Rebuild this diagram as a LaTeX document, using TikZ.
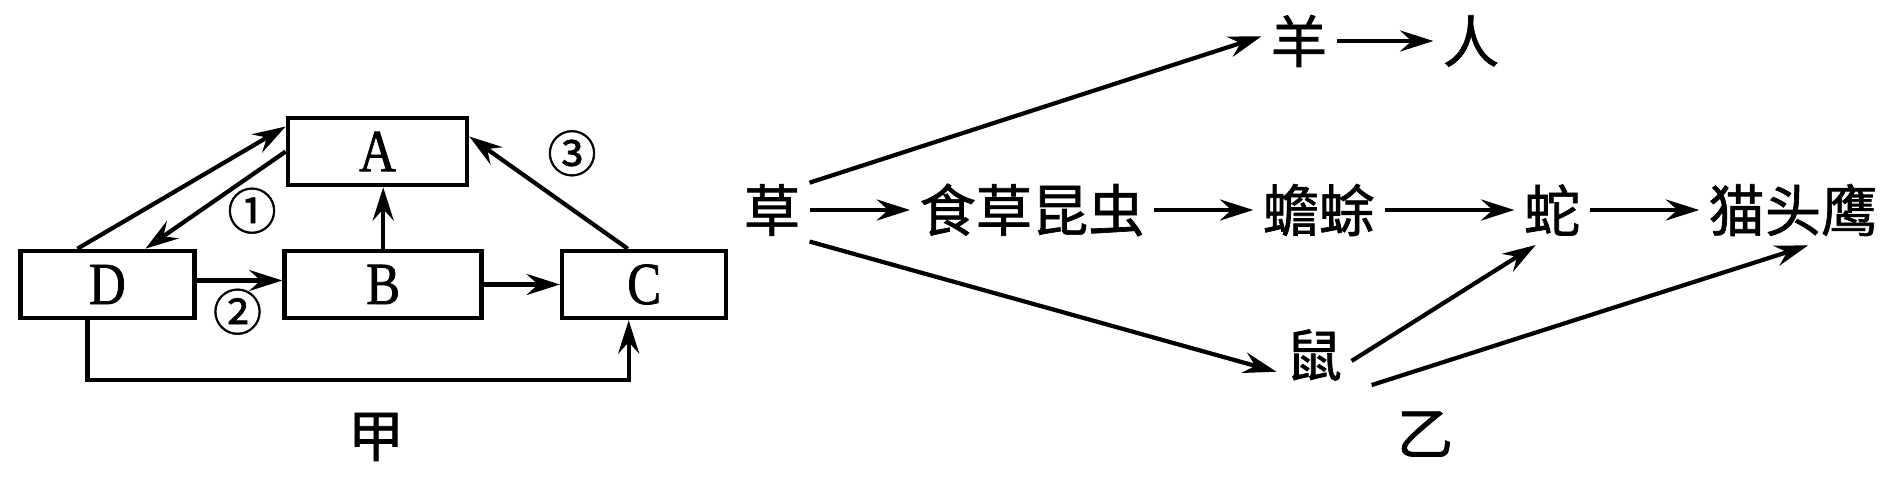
\documentclass[tikz,border=0pt]{standalone}
\usepackage{fontspec}
\setmainfont{Liberation Serif}
\newfontfamily\cjk{Noto Sans CJK SC}[FakeBold=1.2]
\newfontfamily\boxfont{Liberation Serif}[FakeStretch=0.85,FakeBold=1.2]
\usetikzlibrary{arrows.meta}

\tikzset{
  box/.style={draw, line width=1.3pt, minimum height=0.67cm, inner sep=0pt,
    font=\boxfont\fontsize{17pt}{19pt}\selectfont},
  organism/.style={inner sep=2.5pt, font=\cjk\fontsize{16pt}{18pt}\selectfont},
  numlbl/.style={inner sep=0pt, font=\cjk\fontsize{14pt}{16pt}\selectfont},
  flow/.style={-{Stealth[length=9.5pt,width=6pt,inset=3.3pt]}, line width=1.2pt},
}

\begin{document}
\begin{tikzpicture}
  \useasboundingbox (0,0) rectangle (18.9,4.79);

  % carbon cycle boxes
  \node[box, minimum width=1.79cm] (A) at (3.775,3.275) {A};
  \node[box, minimum width=1.74cm] (D) at (1.074,1.945) {D};
  \node[box, minimum width=1.97cm] (B) at (3.832,1.945) {B};
  \node[box, minimum width=1.64cm] (C) at (6.442,1.945) {C};

  % cycle arrows
  \draw[flow] ([xshift=-0.30cm]D.north) -- ([yshift=0.25cm]A.west);
  \draw[flow] (A.west) -- ([xshift=0.38cm]D.north);
  \draw[flow] ([yshift=0.04cm]D.east) -- ([yshift=0.04cm]B.west);
  \draw[flow] (B.north) -- (B.north |- A.south);
  \draw[flow] (B.east) -- (C.west);
  \draw[flow] ([xshift=-0.165cm]C.north) -- ([yshift=0.15cm]A.east);
  \draw[flow] ([xshift=-0.20cm]D.south) -- ++(0,-0.6) -| ([xshift=-0.155cm]C.south);

  % process numbers
  \node[numlbl] (n1) at (2.52,2.683) {①};
  \node[numlbl] (n2) at (2.375,1.673) {②};
  \node[numlbl] (n3) at (5.72,3.257) {③};
  \node[organism] (jia) at (3.76,0.42) {甲};

  % food web
  \node[organism] (cao) at (7.72,2.69) {草};
  \node[organism] (kunchong) at (10.32,2.69) {食草昆虫};
  \node[organism] (chanchu) at (13.19,2.69) {蟾蜍};
  \node[organism] (she) at (15.52,2.69) {蛇};
  \node[organism] (maotouying) at (17.93,2.69) {猫头鹰};
  \node[organism] (yang) at (12.99,4.38) {羊};
  \node[organism] (ren) at (14.71,4.38) {人};
  \node[organism] (shu) at (13.14,1.24) {鼠};
  \node[organism] (yi) at (14.25,0.45) {乙};

  \draw[flow] (cao.east) -- (kunchong.west);
  \draw[flow] (kunchong.east) -- (chanchu.west);
  \draw[flow] (chanchu.east) -- (she.west);
  \draw[flow] (she.east) -- (maotouying.west);
  \draw[flow] (yang.east) -- (ren.west);
  \draw[flow] (cao.36) -- (yang.173);
  \draw[flow] (cao.-40) -- (shu.204);
  \draw[flow] (shu.-9) -- (she.245);
  \draw[flow] ([xshift=0.2cm,yshift=0.05cm]shu.south east) -- ([xshift=0.15cm]maotouying.south);

\end{tikzpicture}
\end{document}
